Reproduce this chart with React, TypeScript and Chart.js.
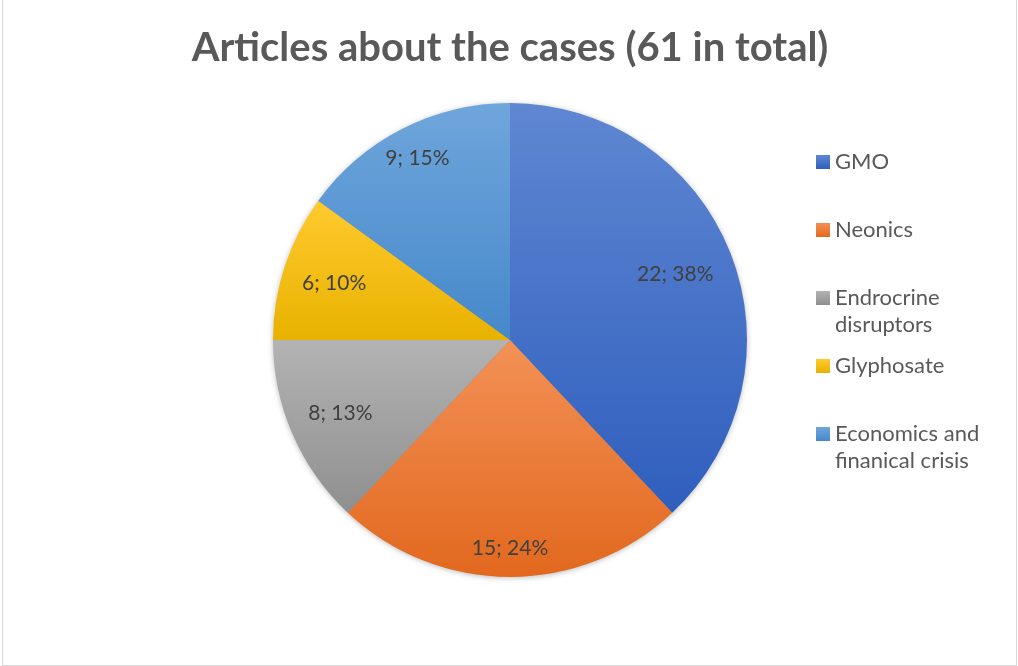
import React, { useEffect, useRef } from "react";
import { Chart, registerables } from "chart.js";

Chart.register(...registerables);

const titleText = "Articles about the cases (61 in total)";
const categories = ["GMO", "Neonics", "Endrocrine disruptors", "Glyphosate", "Economics and finanical crisis"];
const articleCounts = [22, 15, 8, 6, 9];
const sharePercents = [38, 24, 13, 10, 15];
const legendLines = [["GMO"], ["Neonics"], ["Endrocrine", "disruptors"], ["Glyphosate"], ["Economics and", "finanical crisis"]];

// styles
const topColors = ["#5F87D2", "#F39156", "#B3B3B3", "#FFCA2E", "#6FA6DC"];
const bottomColors = ["#2F5EBD", "#E2681E", "#8F8F8F", "#E8B200", "#4688CA"];
const swatchColors = ["#4472C4", "#ED7D31", "#A5A5A5", "#FFC000", "#5B9BD5"];
const labelRadiusFrac = [0.75, 0.88, 0.78, 0.78, 0.86];
const FONT = "Lato, 'Open Sans', sans-serif";

function sliceGradient(ctx: any) {
  const chart = ctx.chart;
  const i = ctx.dataIndex;
  const area = chart.chartArea;
  if (!area || i === undefined) return swatchColors[i ?? 0];
  const cx = (area.left + area.right) / 2;
  const cy = (area.top + area.bottom) / 2;
  const r = Math.min(area.right - area.left, area.bottom - area.top) / 2;
  const total = sharePercents.reduce((a, b) => a + b, 0);
  let cum = 0;
  for (let k = 0; k < i; k++) cum += sharePercents[k];
  const a0 = -Math.PI / 2 + (2 * Math.PI * cum) / total;
  const a1 = -Math.PI / 2 + (2 * Math.PI * (cum + sharePercents[i])) / total;
  const ys = [cy, cy + r * Math.sin(a0), cy + r * Math.sin(a1)];
  const within = (a: number) => {
    let t = a;
    while (t < a0) t += 2 * Math.PI;
    return t <= a1;
  };
  if (within(-Math.PI / 2)) ys.push(cy - r);
  if (within(Math.PI / 2)) ys.push(cy + r);
  const y0 = Math.min(...ys);
  const y1 = Math.max(...ys);
  const g = chart.ctx.createLinearGradient(0, y0, 0, y1);
  g.addColorStop(0, topColors[i]);
  g.addColorStop(1, bottomColors[i]);
  return g;
}

const framePlugin = {
  id: "frame",
  beforeDraw(chart: any) {
    const c = chart.ctx;
    c.save();
    c.fillStyle = "#ffffff";
    c.fillRect(0, 0, chart.width, chart.height);
    c.strokeStyle = "#D9D9D9";
    c.lineWidth = 1;
    c.strokeRect(2.5, -0.5, chart.width - 4, chart.height);
    c.restore();
  },
  beforeDatasetsDraw(chart: any) {
    const arc = chart.getDatasetMeta(0).data[0];
    if (!arc) return;
    const c = chart.ctx;
    c.save();
    c.shadowColor = "rgba(0,0,0,0.35)";
    c.shadowBlur = 6;
    c.shadowOffsetX = 0;
    c.shadowOffsetY = 1;
    c.fillStyle = "#888";
    c.beginPath();
    c.arc(arc.x, arc.y, arc.outerRadius - 1, 0, Math.PI * 2);
    c.fill();
    c.restore();
  },
};

const labelPlugin = {
  id: "sliceLabels",
  afterDatasetsDraw(chart: any) {
    const c = chart.ctx;
    const meta = chart.getDatasetMeta(0);
    c.save();
    c.font = `21px ${FONT}`;
    c.fillStyle = "#404040";
    c.textAlign = "center";
    c.textBaseline = "middle";
    meta.data.forEach((arc: any, i: number) => {
      const mid = (arc.startAngle + arc.endAngle) / 2;
      const d = arc.outerRadius * labelRadiusFrac[i];
      c.fillText(`${articleCounts[i]}; ${sharePercents[i]}%`, arc.x + Math.cos(mid) * d, arc.y + Math.sin(mid) * d);
    });
    c.restore();
  },
};

const legendPlugin = {
  id: "sideLegend",
  afterDraw(chart: any) {
    const arc = chart.getDatasetMeta(0).data[0];
    if (!arc) return;
    const c = chart.ctx;
    const x0 = arc.x + arc.outerRadius + 69;
    const y0 = arc.y - 178;
    const step = 68;
    const lineH = 27;
    c.save();
    c.font = `22px ${FONT}`;
    c.textBaseline = "middle";
    c.textAlign = "left";
    legendLines.forEach((lines, i) => {
      const y = y0 + i * step;
      const g = c.createLinearGradient(0, y - 7, 0, y + 7);
      g.addColorStop(0, topColors[i]);
      g.addColorStop(1, bottomColors[i]);
      c.fillStyle = g;
      c.fillRect(x0, y - 7, 14, 14);
      c.fillStyle = "#595959";
      lines.forEach((ln, j) => c.fillText(ln, x0 + 19, y + j * lineH));
    });
    c.restore();
  },
};

export default function App() {
  const ref = useRef<HTMLCanvasElement | null>(null);
  useEffect(() => {
    if (!ref.current) return;
    const chart = new Chart(ref.current, {
      type: "pie",
      data: {
        labels: categories,
        datasets: [
          {
            data: sharePercents,
            backgroundColor: sliceGradient as any,
            borderWidth: 0,
          },
        ],
      },
      options: {
        responsive: false,
        animation: false,
        layout: { padding: { left: 2, right: 0, top: 0, bottom: 89 } },
        plugins: {
          legend: { display: false },
          tooltip: { enabled: false },
          title: {
            display: true,
            text: titleText,
            color: "#595959",
            font: { family: FONT, size: 40, weight: "bold", lineHeight: 1.2 },
            padding: { top: 24, bottom: 31 },
          },
        },
      },
      plugins: [framePlugin, labelPlugin, legendPlugin],
    });
    return () => chart.destroy();
  }, []);
  return (
    <div style={{ position: "absolute", left: 0, top: 0, width: 1018, height: 666 }}>
      <canvas ref={ref} width={1018} height={666} style={{ display: "block" }} />
    </div>
  );
}
